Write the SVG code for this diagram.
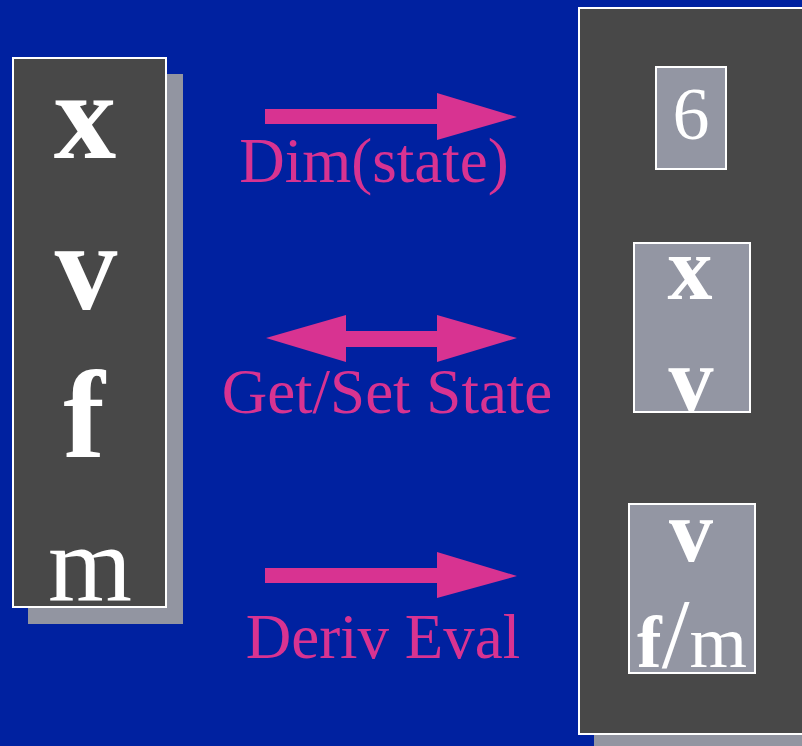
<svg xmlns="http://www.w3.org/2000/svg" width="802" height="746" viewBox="0 0 802 746">
  <style>
    .panel { fill: #484848; stroke: #ffffff; stroke-width: 2; }
    .shadow { fill: #9295a1; }
    .cell { fill: #9396a3; stroke: #ffffff; stroke-width: 2; }
    .sym { font-family: "Liberation Serif", "Times New Roman", serif; fill: #ffffff; text-anchor: middle; }
    .b { font-weight: bold; }
    .label { font-family: "Liberation Serif", "Times New Roman", serif; font-size: 63px; fill: #d83391; text-anchor: middle; }
    .arrow { fill: #d83391; }
  </style>

  <rect width="802" height="746" fill="#0021a0"/>

  <!-- state vector held by the particle -->
  <g id="particle-state">
    <rect class="shadow" x="28" y="74" width="155" height="550"/>
    <rect class="panel" x="13" y="58" width="153" height="549"/>
    <text class="sym b" x="85" y="158" font-size="125">x</text>
    <text class="sym b" x="86" y="309" font-size="125">v</text>
    <text class="sym b" x="84" y="457" font-size="125">f</text>
    <text class="sym" x="90" y="601" font-size="108">m</text>
  </g>

  <!-- solver side -->
  <g id="solver">
    <rect class="shadow" x="594" y="24" width="220" height="730"/>
    <rect class="panel" x="579" y="8" width="240" height="726"/>
  </g>

  <g id="dim-cell">
    <rect class="cell" x="656" y="67" width="70" height="102"/>
    <text class="sym" x="691" y="139" font-size="74">6</text>
  </g>

  <g id="state-cell">
    <rect class="cell" x="634" y="243" width="116" height="169"/>
    <text class="sym b" x="690" y="299" font-size="90">x</text>
    <text class="sym b" x="691" y="410" font-size="90">v</text>
  </g>

  <g id="deriv-cell">
    <rect class="cell" x="629" y="504" width="126" height="169"/>
    <text class="sym b" x="691" y="561" font-size="88">v</text>
    <text class="sym" x="692" y="667" font-size="74"><tspan class="b">f</tspan><tspan font-size="100">/</tspan>m</text>
  </g>

  <!-- connectors -->
  <g id="connectors">
    <polygon class="arrow" points="265,109 437,109 437,93 517,117 437,140 437,124 265,124"/>
    <polygon class="arrow" points="266,338 346,315 346,331 437,331 437,315 517,338 437,362 437,347 346,347 346,362"/>
    <polygon class="arrow" points="265,568 437,568 437,552 517,576 437,598 437,583 265,583"/>
  </g>

  <g id="labels">
    <text class="label" x="374" y="182">Dim(state)</text>
    <text class="label" x="387" y="413">Get/Set State</text>
    <text class="label" x="383" y="658">Deriv Eval</text>
  </g>
</svg>
